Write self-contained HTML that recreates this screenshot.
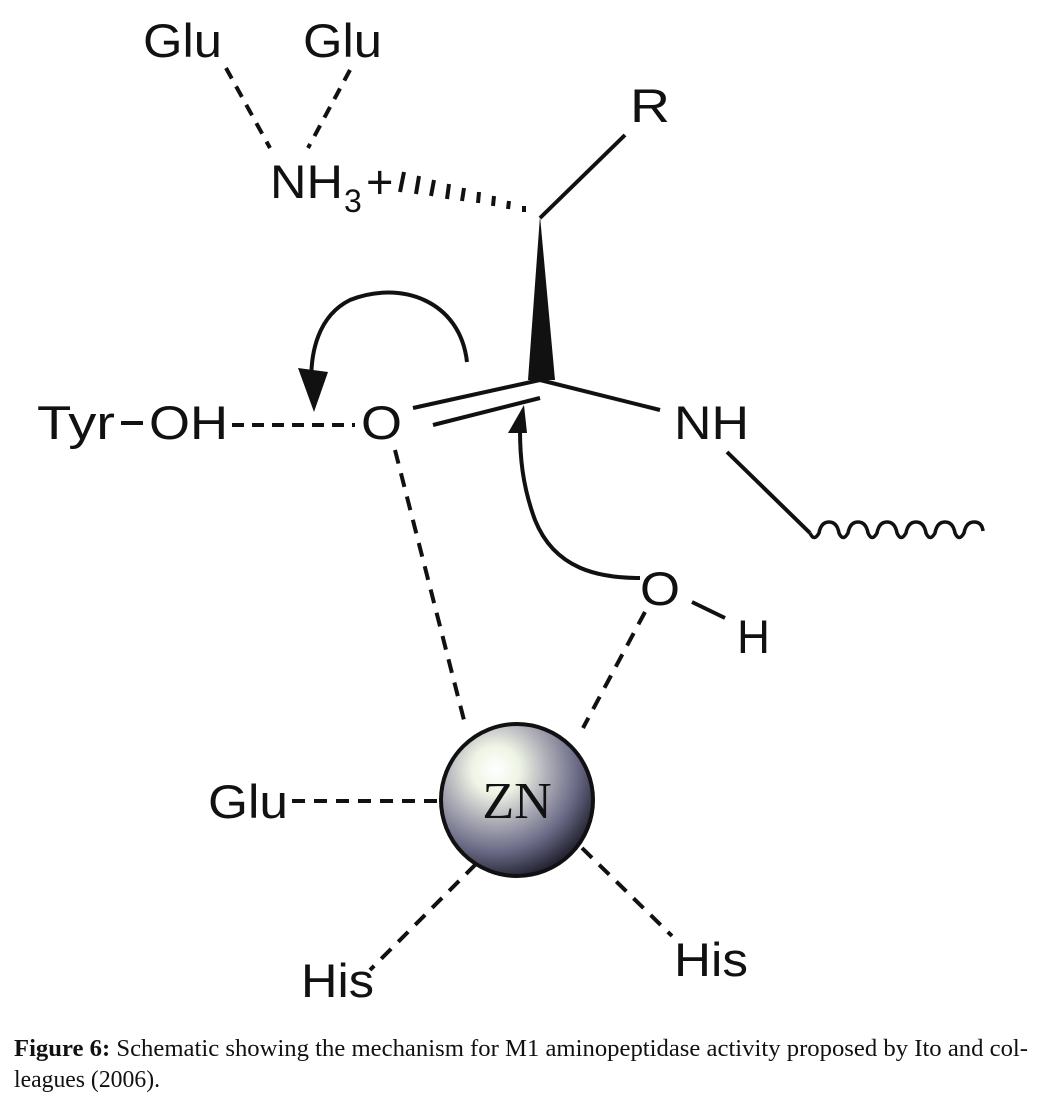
<!DOCTYPE html>
<html><head><style>
html,body{margin:0;padding:0;background:#fff;}
svg{display:block;}
.t{font-family:"Liberation Sans",sans-serif;font-size:47px;fill:#111;}
.c{font-family:"Liberation Serif",serif;font-size:24px;fill:#111;}
</style></head><body>
<svg width="1046" height="1103" viewBox="0 0 1046 1103" xmlns="http://www.w3.org/2000/svg">
<defs>
<radialGradient id="g" cx="0.36" cy="0.3" r="0.72">
<stop offset="0" stop-color="#ffffff"/>
<stop offset="0.22" stop-color="#eef4e4"/>
<stop offset="0.45" stop-color="#b4b4bc"/>
<stop offset="0.75" stop-color="#6a6a86"/>
<stop offset="1" stop-color="#262636"/>
</radialGradient>
</defs>
<g stroke="#111" stroke-width="4" fill="none" stroke-linecap="butt">
<line x1="226" y1="68" x2="270" y2="148" stroke-dasharray="12,9"/>
<line x1="350" y1="70" x2="308" y2="148" stroke-dasharray="12,9"/>
<line x1="540" y1="218" x2="625" y2="135"/>
<line x1="540" y1="380" x2="660" y2="410"/>
<line x1="540" y1="380" x2="413" y2="408"/>
<line x1="540" y1="398" x2="433" y2="425"/>
<line x1="727" y1="452" x2="810" y2="533"/>
<path d="M810 533 q4 9 9 0 q2 -11 10 -11 q8 0 10 11 q4 9 9 0 q2 -11 10 -11 q8 0 10 11 q4 9 9 0 q2 -11 10 -11 q8 0 10 11 q4 9 9 0 q2 -11 10 -11 q8 0 10 11 q4 9 9 0 q2 -11 10 -11 q8 0 10 11 q4 9 9 0 q2 -11 10 -11 q8 0 9 9" stroke-width="3.5"/>
<line x1="121" y1="423" x2="143" y2="423"/>
<line x1="232" y1="425" x2="355" y2="425" stroke-dasharray="12,8"/>
<path d="M467 362 C460 300 400 280 350 300 C320 315 308 350 312 395"/>
<path d="M640 578 C600 578 555 570 535 520 C522 485 520 455 520 430"/>
<line x1="692" y1="602" x2="725" y2="618"/>
<line x1="395" y1="450" x2="466" y2="728" stroke-dasharray="14,10"/>
<line x1="645" y1="612" x2="583" y2="728" stroke-dasharray="14,10"/>
<line x1="292" y1="801" x2="440" y2="801" stroke-dasharray="13,9"/>
<line x1="476" y1="864" x2="370" y2="970" stroke-dasharray="14,10"/>
<line x1="582" y1="848" x2="672" y2="936" stroke-dasharray="14,10"/>
</g>
<g stroke="#111" stroke-width="4">
<line x1="404" y1="172" x2="400" y2="192"/>
<line x1="419" y1="176" x2="416" y2="194"/>
<line x1="434" y1="180" x2="431" y2="196"/>
<line x1="449" y1="184" x2="447" y2="199"/>
<line x1="464" y1="188" x2="462" y2="201"/>
<line x1="479" y1="192" x2="478" y2="203"/>
<line x1="494" y1="196" x2="493" y2="206"/>
<line x1="509" y1="201" x2="508" y2="209"/>
<line x1="524" y1="206" x2="524" y2="212"/>
</g>
<polygon points="540,216 528,380 555,380" fill="#111"/>
<polygon points="298,368 328,372 314,412" fill="#111"/>
<polygon points="508,433 527,433 524,405" fill="#111"/>
<circle cx="517" cy="800" r="76" fill="url(#g)" stroke="#111" stroke-width="4"/>
<text x="517" y="818" text-anchor="middle" style="font-family:'Liberation Serif',serif;font-size:52px;fill:#111">ZN</text>
<text class="t" x="143" y="57" textLength="79" lengthAdjust="spacingAndGlyphs">Glu</text>
<text class="t" x="303" y="57" textLength="79" lengthAdjust="spacingAndGlyphs">Glu</text>
<text class="t" x="270" y="198" textLength="73" lengthAdjust="spacingAndGlyphs">NH</text>
<text class="t" x="344" y="212" style="font-size:32px">3</text>
<text class="t" x="366" y="198">+</text>
<text class="t" x="630" y="122" textLength="40" lengthAdjust="spacingAndGlyphs">R</text>
<text class="t" x="37" y="439" textLength="78" lengthAdjust="spacingAndGlyphs">Tyr</text>
<text class="t" x="149" y="439" textLength="79" lengthAdjust="spacingAndGlyphs">OH</text>
<text class="t" x="361" y="439" textLength="41" lengthAdjust="spacingAndGlyphs">O</text>
<text class="t" x="674" y="439" textLength="75" lengthAdjust="spacingAndGlyphs">NH</text>
<text class="t" x="640" y="605" textLength="40" lengthAdjust="spacingAndGlyphs">O</text>
<text class="t" x="737" y="653" textLength="33" lengthAdjust="spacingAndGlyphs">H</text>
<text class="t" x="208" y="818" textLength="80" lengthAdjust="spacingAndGlyphs">Glu</text>
<text class="t" x="301" y="997" textLength="73" lengthAdjust="spacingAndGlyphs">His</text>
<text class="t" x="674" y="976" textLength="74" lengthAdjust="spacingAndGlyphs">His</text>
<text class="c" x="14" y="1056" textLength="1014" lengthAdjust="spacingAndGlyphs"><tspan font-weight="bold">Figure 6:</tspan> Schematic showing the mechanism for M1 aminopeptidase activity proposed by Ito and col-</text>
<text class="c" x="14" y="1087" textLength="146" lengthAdjust="spacingAndGlyphs">leagues (2006).</text>
</svg>
</body></html>
